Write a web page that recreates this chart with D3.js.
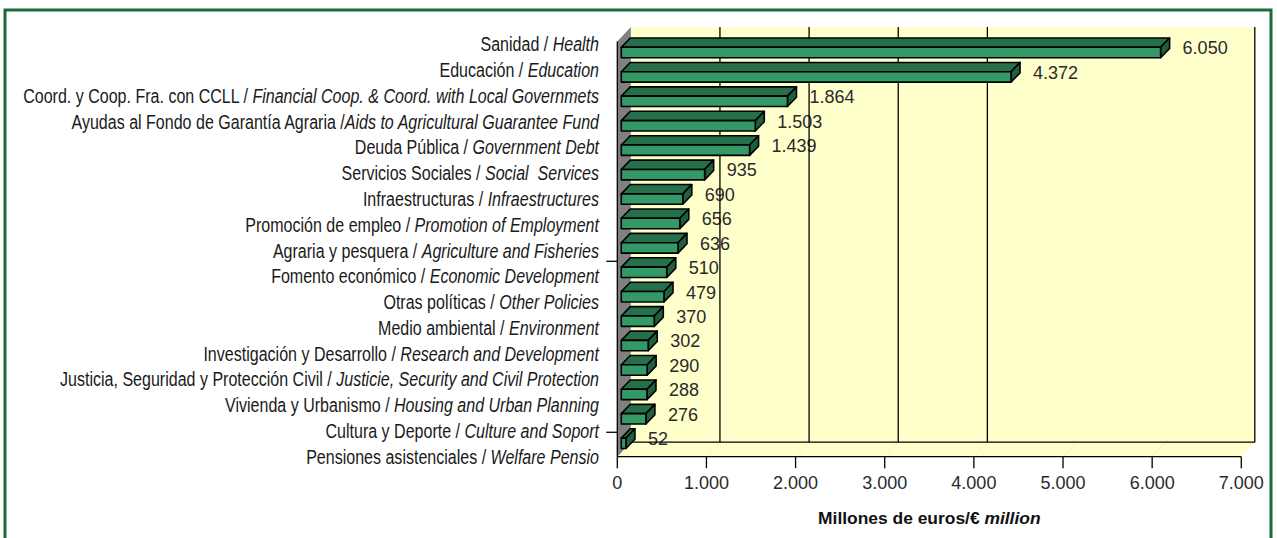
<!DOCTYPE html>
<html><head><meta charset="utf-8">
<script src="https://cdn.jsdelivr.net/npm/d3@7"></script>
<style>
html,body{margin:0;padding:0;background:#fff;}
svg{display:block;}
text{white-space:pre;}
</style></head><body>
<svg id="chart" width="1277" height="538"></svg>
<script>
// ---------- data ----------
const categoriesEs = ["Sanidad / ", "Educación / ", "Coord. y Coop. Fra. con CCLL / ", "Ayudas al Fondo de Garantía Agraria /", "Deuda Pública / ", "Servicios Sociales / ", "Infraestructuras / ", "Promoción de empleo / ", "Agraria y pesquera / ", "Fomento económico / ", "Otras políticas / ", "Medio ambiental / ", "Investigación y Desarrollo / ", "Justicia, Seguridad y Protección Civil / ", "Vivienda y Urbanismo / ", "Cultura y Deporte / ", "Pensiones asistenciales / "];
const categoriesEn = ["Health", "Education", "Financial Coop. & Coord. with Local Governmets", "Aids to Agricultural Guarantee Fund", "Government Debt", "Social  Services", "Infraestructures", "Promotion of Employment", "Agriculture and Fisheries", "Economic Development", "Other Policies", "Environment", "Research and Development", "Justicie, Security and Civil Protection", "Housing and Urban Planning", "Culture and Soport", "Welfare Pensio"];
const values = [6050, 4372, 1864, 1503, 1439, 935, 690, 656, 636, 510, 479, 370, 302, 290, 288, 276, 52];
const xTickValues = [0, 1000, 2000, 3000, 4000, 5000, 6000, 7000];
const wallGridValues = [1000, 2000, 3000, 4000];
const categoryTickIndex = [9, 16];
const axisTitleEs = "Millones de euros/€ ";
const axisTitleEn = "million";

// ---------- layout ----------
const svg = d3.select("#chart");
const loc = d3.formatLocale({decimal: ",", thousands: ".", grouping: [3], currency: ["", "€"]});
const fmt = loc.format(",");

const x = d3.scaleLinear().domain([0, 7000]).range([617.3, 1241.3]);
const depth = {dx: 13.5, dy: -14.5};
const yFrontTop = 41.5, yFloor = 456.7;
const y = d3.scaleBand().domain(categoriesEn).range([yFrontTop, yFloor]).padding(0);
const yLab = d3.scalePoint().domain(categoriesEn).range([43.3, 456]);

const valueFont = "'Liberation Sans', Arial, sans-serif";

// frame
svg.append("rect").attr("x", 5).attr("y", 10).attr("width", 1266).attr("height", 600)
  .attr("fill", "none").attr("stroke", "#1b6b3c").attr("stroke-width", 3);

// back wall
const xb = v => x(v) + depth.dx;
const yBackTop = yFrontTop + depth.dy, yBackFloor = yFloor + depth.dy;
svg.append("rect").attr("x", xb(0)).attr("y", yBackTop).attr("width", xb(7000) - xb(0))
  .attr("height", yBackFloor - yBackTop).attr("fill", "#FFFFCC");
// floor
svg.append("polygon").attr("points", [[x(0), yFloor], [x(7000), yFloor], [xb(7000), yBackFloor], [xb(0), yBackFloor]].join(" "))
  .attr("fill", "#FFFFCC");
svg.append("g").selectAll("line").data(xTickValues.slice(1, -1)).join("line")
  .attr("x1", d => x(d)).attr("y1", yFloor).attr("x2", d => xb(d)).attr("y2", yBackFloor)
  .attr("stroke", "#f3f3c2").attr("stroke-width", 1);
// left wall
svg.append("polygon").attr("points", [[x(0), yFrontTop], [xb(0), yBackTop], [xb(0), yBackFloor], [x(0), yFloor]].join(" "))
  .attr("fill", "#808080");

// value labels (behind gridlines, as in the original)
const bx = 4, bdx = 9, bdy = 9.3, bh = 10.4;
const barTop = d => y(d) + y.bandwidth() / 2 - 6.4;
svg.append("g").attr("font-family", valueFont).attr("font-size", 18).attr("fill", "#2a2a2a")
  .selectAll("text").data(categoriesEn).join("text")
  .attr("x", (d, i) => x(values[i]) + bx + 22)
  .attr("y", d => barTop(d) + 1)
  .attr("dominant-baseline", "central")
  .text((d, i) => fmt(values[i]));

// back wall gridlines and borders
svg.append("g").selectAll("line").data(wallGridValues).join("line")
  .attr("x1", d => xb(d)).attr("x2", d => xb(d)).attr("y1", yBackTop).attr("y2", yBackFloor)
  .attr("stroke", "#000").attr("stroke-width", 1.3);
svg.append("line").attr("x1", xb(7000)).attr("x2", xb(7000)).attr("y1", yBackTop).attr("y2", yBackFloor)
  .attr("stroke", "#000").attr("stroke-width", 1.3);
svg.append("line").attr("x1", xb(0)).attr("x2", xb(7000)).attr("y1", yBackFloor).attr("y2", yBackFloor)
  .attr("stroke", "#000").attr("stroke-width", 1.3);

// bars
const bars = svg.append("g").attr("stroke", "#000").attr("stroke-width", 1.6).attr("stroke-linejoin", "round")
  .selectAll("g").data(categoriesEn).join("g");
bars.each(function (d, i) {
  const g = d3.select(this);
  const xl = x(0) + bx, xr = x(values[i]) + bx;
  const t = barTop(d), b = t + bh;
  g.append("polygon").attr("points", [[xl, t], [xr, t], [xr + bdx, t - bdy], [xl + bdx, t - bdy]].join(" "))
    .attr("fill", "#25704a");
  g.append("polygon").attr("points", [[xr, t], [xr + bdx, t - bdy], [xr + bdx, b - bdy], [xr, b]].join(" "))
    .attr("fill", "#1f5f3f");
  g.append("rect").attr("x", xl).attr("y", t).attr("width", xr - xl).attr("height", b - t)
    .attr("fill", "#339966");
});

// axes lines and ticks
svg.append("line").attr("x1", x(0)).attr("x2", x(0)).attr("y1", yFrontTop).attr("y2", yFloor)
  .attr("stroke", "#000").attr("stroke-width", 1.3);
svg.append("line").attr("x1", x(0)).attr("x2", x(7000)).attr("y1", yFloor).attr("y2", yFloor)
  .attr("stroke", "#000").attr("stroke-width", 1.3);
svg.append("g").selectAll("line").data(xTickValues).join("line")
  .attr("x1", d => x(d)).attr("x2", d => x(d)).attr("y1", yFloor).attr("y2", yFloor + 11.5)
  .attr("stroke", "#000").attr("stroke-width", 1.3);
svg.append("g").selectAll("line").data(categoryTickIndex).join("line")
  .attr("x1", x(0) - 11).attr("x2", x(0)).attr("y1", d => y(categoriesEn[d])).attr("y2", d => y(categoriesEn[d]))
  .attr("stroke", "#000").attr("stroke-width", 1.3);

// x tick labels
svg.append("g").attr("font-family", valueFont).attr("font-size", 18).attr("fill", "#2a2a2a")
  .selectAll("text").data(xTickValues).join("text")
  .attr("x", d => x(d)).attr("y", 483).attr("text-anchor", "middle").attr("dominant-baseline", "central")
  .text(d => fmt(d));

// axis title
const title = svg.append("text").attr("font-family", valueFont).attr("font-weight", "bold")
  .attr("font-size", 16).attr("fill", "#111").attr("text-anchor", "middle")
  .attr("dominant-baseline", "central").attr("xml:space", "preserve")
  .attr("x", (x(0) + x(7000)) / 2).attr("y", 518);
title.append("tspan").text(axisTitleEs);
title.append("tspan").attr("font-style", "italic").text(axisTitleEn);
const tw = title.node().getBBox().width;
title.attr("font-size", 16 * 223 / tw);

// category labels
const labs = svg.append("g").attr("font-family", "'Liberation Sans Narrow', 'Liberation Sans', Arial, sans-serif")
  .attr("font-size", 21).attr("fill", "#1a1a1a")
  .selectAll("text").data(categoriesEn).join("text")
  .attr("text-anchor", "end").attr("dominant-baseline", "central").attr("xml:space", "preserve");
labs.append("tspan").text((d, i) => categoriesEs[i]);
labs.append("tspan").attr("font-style", "italic").text(d => d);
const wMax = labs.nodes()[2].getBBox().width;
const k = 576.6 / wMax;
labs.attr("transform", d => `translate(599,${yLab(d)}) scale(${k},1)`);
</script>
</body></html>
